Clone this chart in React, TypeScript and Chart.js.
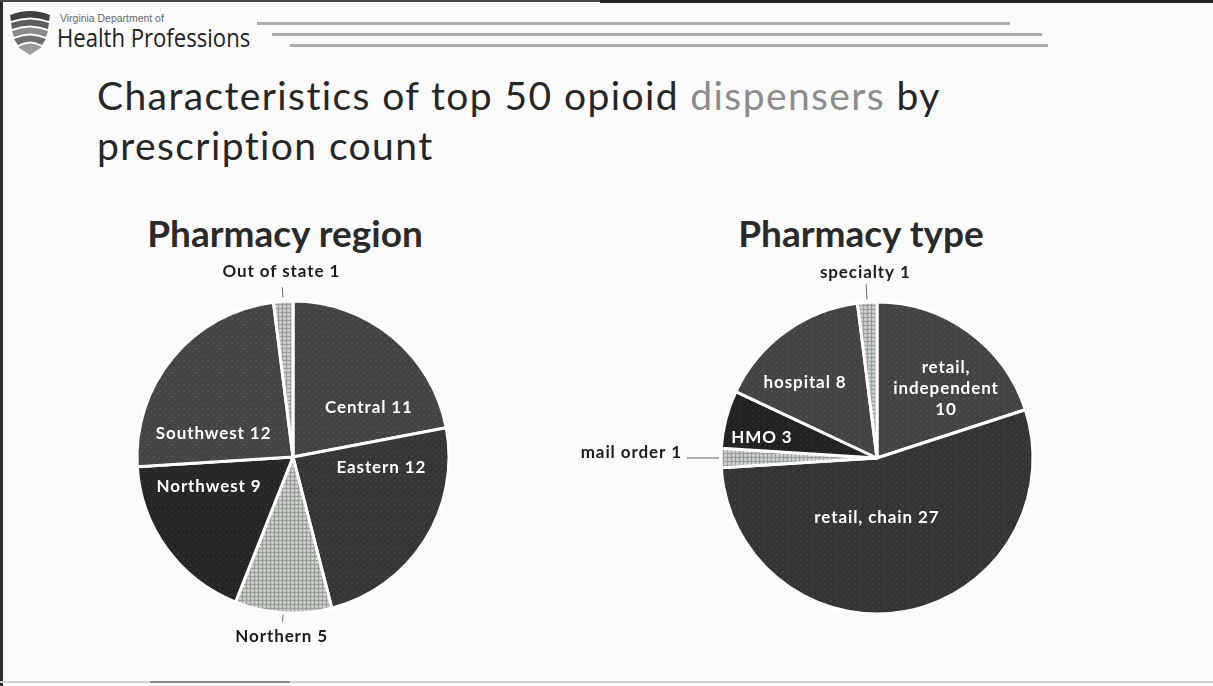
import React, { useEffect, useRef } from "react";
import { Chart, registerables } from "chart.js";

Chart.register(...registerables);

// ---------- data ----------
const regionLabels = ["Central", "Eastern", "Northern", "Northwest", "Southwest", "Out of state"];
const regionValues = [11, 12, 5, 9, 12, 1];

const typeLabels = ["retail, independent", "retail, chain", "mail order", "HMO", "hospital", "specialty"];
const typeValues = [10, 27, 1, 3, 8, 1];

const slideTitle1 = "Characteristics of top 50 opioid ";
const slideTitleGray = "dispensers";
const slideTitle2 = " by";
const slideTitle3 = "prescription count";
const regionTitle = "Pharmacy region";
const typeTitle = "Pharmacy type";

// ---------- style ----------
const FONT = "Lato, 'Open Sans', sans-serif";

function darkPattern(base: string, speck: string) {
  const c = document.createElement("canvas");
  c.width = 6;
  c.height = 6;
  const g = c.getContext("2d")!;
  g.fillStyle = base;
  g.fillRect(0, 0, 6, 6);
  g.fillStyle = speck;
  g.fillRect(1, 2, 1, 1);
  g.fillRect(4, 5, 1, 1);
  g.fillRect(3, 0, 1, 1);
  return g.createPattern(c, "repeat")!;
}

function lightPattern() {
  const c = document.createElement("canvas");
  c.width = 4;
  c.height = 4;
  const g = c.getContext("2d")!;
  g.fillStyle = "#c4c8c4";
  g.fillRect(0, 0, 4, 4);
  g.fillStyle = "#9a9f9a";
  g.fillRect(0, 1, 4, 1);
  g.fillRect(2, 0, 1, 4);
  g.fillStyle = "#dfe2df";
  g.fillRect(0, 3, 1, 1);
  return g.createPattern(c, "repeat")!;
}

type Place =
  | { mode: "in"; t: number; r: number; wrap?: boolean }
  | { mode: "out"; l0: number; l1: number; gap: number; dy?: number };

const regionPlaces: Place[] = [
  { mode: "in", t: 0.72, r: 0.58 },
  { mode: "in", t: 0.2, r: 0.57 },
  { mode: "out", l0: 2, l1: 9, gap: 15 },
  { mode: "in", t: 0.76, r: 0.57 },
  { mode: "in", t: 0.23, r: 0.53 },
  { mode: "out", l0: 4, l1: 14, gap: 16 },
];

const typePlaces: Place[] = [
  { mode: "in", t: 0.62, r: 0.63, wrap: true },
  { mode: "in", t: 0.556, r: 0.38 },
  { mode: "out", l0: 2, l1: 34, gap: 5, dy: -5 },
  { mode: "in", t: 0.31, r: 0.75 },
  { mode: "in", t: 0.37, r: 0.67 },
  { mode: "out", l0: 3, l1: 18, gap: 12 },
];

const labelPlugin = {
  id: "sliceLabels",
  afterDraw(chart: any, _args: any, opts: any) {
    const ctx: CanvasRenderingContext2D = chart.ctx;
    const meta = chart.getDatasetMeta(0);
    const labels: string[] = chart.data.labels;
    const values: number[] = chart.data.datasets[0].data;
    const places: Place[] = opts.places;
    ctx.save();
    meta.data.forEach((arc: any, i: number) => {
      const { x, y, startAngle, endAngle, outerRadius } = arc.getProps(
        ["x", "y", "startAngle", "endAngle", "outerRadius"],
        true
      );
      const p = places[i];
      const text = `${labels[i]} ${values[i]}`;
      (ctx as any).letterSpacing = "0.9px";
      if (p.mode === "in") {
        const a = startAngle + (endAngle - startAngle) * p.t;
        const px = x + Math.cos(a) * outerRadius * p.r;
        const py = y + Math.sin(a) * outerRadius * p.r;
        ctx.fillStyle = "#ffffff";
        ctx.font = `bold 17px ${FONT}`;
        ctx.textAlign = "center";
        ctx.textBaseline = "middle";
        let lines = [text];
        if (p.wrap) {
          lines = labels[i].split(" ").concat([String(values[i])]);
        }
        const lh = 21;
        lines.forEach((ln, k) => {
          ctx.fillText(ln, px, py + (k - (lines.length - 1) / 2) * lh);
        });
      } else {
        const a = (startAngle + endAngle) / 2;
        const cx = Math.cos(a);
        const cy = Math.sin(a);
        const r0 = outerRadius + p.l0;
        const r1 = outerRadius + p.l1;
        ctx.strokeStyle = "#666666";
        ctx.lineWidth = 1;
        ctx.beginPath();
        ctx.moveTo(x + cx * r0, y + cy * r0);
        ctx.lineTo(x + cx * r1, y + cy * r1);
        ctx.stroke();
        const tx = x + cx * (r1 + p.gap);
        const ty = y + cy * (r1 + p.gap) + (p.dy || 0);
        ctx.fillStyle = "#1c1c1c";
        ctx.font = `bold 17px ${FONT}`;
        ctx.textBaseline = "middle";
        if (Math.abs(cx) > 0.7) {
          ctx.textAlign = cx < 0 ? "right" : "left";
        } else {
          ctx.textAlign = "center";
        }
        ctx.fillText(text, tx, ty);
      }
    });
    ctx.restore();
  },
};

function PieChart(props: {
  labels: string[];
  values: number[];
  colors: () => any[];
  places: Place[];
  style: React.CSSProperties;
}) {
  const ref = useRef<HTMLCanvasElement>(null);
  useEffect(() => {
    const canvas = ref.current!;
    const chart = new Chart(canvas, {
      type: "pie",
      data: {
        labels: props.labels,
        datasets: [
          {
            data: props.values,
            backgroundColor: props.colors(),
            borderColor: "#ffffff",
            borderWidth: 3,
            radius: 156,
          } as any,
        ],
      },
      options: {
        animation: false,
        responsive: false,
        maintainAspectRatio: false,
        layout: { padding: 0 },
        plugins: {
          legend: { display: false },
          tooltip: { enabled: false },
          sliceLabels: { places: props.places },
        } as any,
      },
      plugins: [labelPlugin],
    });
    return () => chart.destroy();
  }, []);
  return (
    <canvas
      ref={ref}
      width={props.style.width as number}
      height={props.style.height as number}
      style={props.style}
    />
  );
}

function Logo() {
  return (
    <svg width="46" height="46" viewBox="0 0 46 46" style={{ position: "absolute", left: 7, top: 9 }}>
      <path d="M3 6 Q23 -2 43 6 L42 12 Q23 5 4 12 Z" fill="#3f3f3f" />
      <path d="M4 14 Q23 7 42 14 L41 20 Q23 13 5 20 Z" fill="#5e5e5e" />
      <path d="M5 22 Q23 15 41 22 L39 28 Q23 21 7 28 Z" fill="#8a8a8a" />
      <path d="M7 30 Q23 23 39 30 L35 36 Q23 29 11 36 Z" fill="#6e6e6e" />
      <path d="M11 38 Q23 31 35 38 L23 46 Z" fill="#9a9a9a" />
    </svg>
  );
}

export default function App() {
  const hatch = "repeating-linear-gradient(90deg, #8e8e8e 0px, #bdbdbd 1px, #9a9a9a 2px, #d0d0d0 3px)";
  return (
    <div
      style={{
        position: "fixed",
        left: 0,
        top: 0,
        width: 1213,
        height: 686,
        background: "#fbfbfb",
        overflow: "hidden",
        fontFamily: FONT,
      }}
    >
      {/* slide frame */}
      <div style={{ position: "absolute", left: 0, top: 0, width: 3, height: 686, background: "#2a2a2a" }} />
      <div style={{ position: "absolute", left: 0, top: 0, width: 1213, height: 2, background: "#444" }} />
      <div style={{ position: "absolute", left: 600, top: 0, width: 613, height: 3, background: "#222" }} />
      <div style={{ position: "absolute", left: 0, top: 681, width: 1213, height: 2, background: "#cfcfcf" }} />
      <div style={{ position: "absolute", left: 150, top: 681, width: 140, height: 2, background: "#8a8a8a" }} />

      {/* header */}
      <Logo />
      <div
        style={{
          position: "absolute",
          left: 60,
          top: 12,
          fontSize: 11,
          color: "#666",
          fontFamily: "'Liberation Sans', sans-serif",
          transform: "scaleX(0.95)",
          transformOrigin: "left",
        }}
      >
        Virginia Department of
      </div>
      <div
        style={{
          position: "absolute",
          left: 57,
          top: 19,
          fontSize: 26,
          color: "#222",
          fontFamily: "'Open Sans', sans-serif",
          whiteSpace: "nowrap",
          transform: "scaleX(0.85)",
          transformOrigin: "left",
        }}
      >
        Health Professions
      </div>
      <div style={{ position: "absolute", left: 257, top: 22, width: 753, height: 3, background: hatch }} />
      <div style={{ position: "absolute", left: 272, top: 33, width: 770, height: 3, background: hatch }} />
      <div style={{ position: "absolute", left: 290, top: 44, width: 758, height: 3, background: hatch }} />

      {/* slide title */}
      <div
        style={{
          position: "absolute",
          left: 97,
          top: 70,
          fontSize: 39,
          lineHeight: "50px",
          color: "#262626",
          whiteSpace: "nowrap",
          letterSpacing: 1.4,
        }}
      >
        <div>
          {slideTitle1}
          <span style={{ color: "#8c8c8c" }}>{slideTitleGray}</span>
          {slideTitle2}
        </div>
        <div>{slideTitle3}</div>
      </div>

      {/* pie titles */}
      <div
        style={{
          position: "absolute",
          left: 285 - 200,
          width: 400,
          top: 210,
          textAlign: "center",
          fontSize: 37,
          fontWeight: 700,
          color: "#2a2a2a",
        }}
      >
        {regionTitle}
      </div>
      <div
        style={{
          position: "absolute",
          left: 861 - 200,
          width: 400,
          top: 210,
          textAlign: "center",
          fontSize: 37,
          fontWeight: 700,
          color: "#2a2a2a",
        }}
      >
        {typeTitle}
      </div>

      <PieChart
        labels={regionLabels}
        values={regionValues}
        places={regionPlaces}
        colors={() => [
          darkPattern("#434343", "#575757"),
          darkPattern("#363636", "#4a4a4a"),
          lightPattern(),
          darkPattern("#262626", "#383838"),
          darkPattern("#444444", "#595959"),
          lightPattern(),
        ]}
        style={{ position: "absolute", left: 0, top: 457 - 210, width: 586, height: 420 }}
      />
      <PieChart
        labels={typeLabels}
        values={typeValues}
        places={typePlaces}
        colors={() => [
          darkPattern("#434343", "#575757"),
          darkPattern("#343434", "#484848"),
          lightPattern(),
          darkPattern("#222222", "#343434"),
          darkPattern("#434343", "#575757"),
          lightPattern(),
        ]}
        style={{ position: "absolute", left: 877 - 320, top: 458 - 210, width: 640, height: 420 }}
      />
    </div>
  );
}
